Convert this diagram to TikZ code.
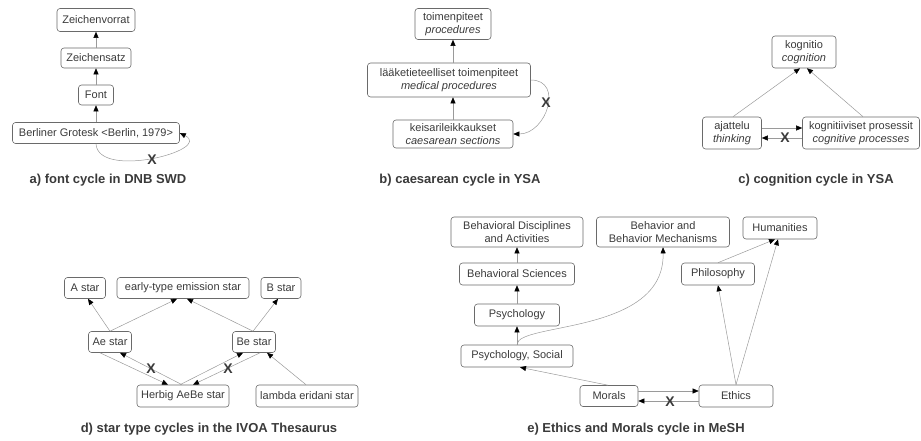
\documentclass[tikz,border=0pt]{standalone}
\usepackage{fontspec}
\setmainfont{Liberation Sans}
\usepackage{xcolor}
\usepackage{tikz}
\usetikzlibrary{positioning,arrows.meta}

\definecolor{txtgray}{HTML}{3A3A3A}
\definecolor{boxgray}{HTML}{6A6A6A}
\definecolor{linegray}{HTML}{9A9A9A}
\newcommand{\boxfont}{\fontsize{11}{13}\selectfont}
\newcommand{\capfont}{\fontsize{13}{15}\selectfont\bfseries}
\newcommand{\xfont}{\fontsize{14}{16}\selectfont\bfseries}

\begin{document}
\begin{tikzpicture}[x=1pt,y=-1pt,
    box/.style={draw=boxgray,rounded corners=3pt,line width=.6pt,text=txtgray,font=\boxfont,align=center,inner sep=0pt},
    link/.style={draw=linegray,line width=.5pt,-{Triangle[length=6pt,width=5pt,color=black]}},
    cross/.style={font=\xfont,text=txtgray,inner sep=0pt},
    caption/.style={font=\capfont,text=txtgray}]
    \useasboundingbox (0,0) rectangle (921,441);

    % a) font cycle
    \node[box,minimum width=78,minimum height=23] (zv) at (96,20) {Zeichenvorrat};
    \node[box,minimum width=70,minimum height=20] (zs) at (96,58) {Zeichensatz};
    \node[box,minimum width=35,minimum height=20] (fo) at (96,95) {Font};
    \node[box,minimum width=167,minimum height=21] (bg) at (96,133) {Berliner Grotesk <Berlin, 1979>};
    \draw[link] (zs) -- (zv);
    \draw[link] (fo) -- (zs);
    \draw[link] (bg) -- (fo);
    \draw[link] (bg.south) .. controls (98,180) and (214,150) .. (bg.east);
    \node[cross] (xa) at (152,160) {X};
    \node[caption] (ca) at (108,180) {a) font cycle in DNB SWD};

    % b) caesarean cycle
    \node[box,minimum width=76,minimum height=31] (tp) at (453,24) {toimenpiteet\\\textit{procedures}};
    \node[box,minimum width=163,minimum height=34] (mt) at (449,80) {lääketieteelliset toimenpiteet\\\textit{medical procedures}};
    \node[box,minimum width=120,minimum height=28] (ks) at (453,134) {keisarileikkaukset\\\textit{caesarean sections}};
    \draw[link] ([xshift=4pt]mt.north) -- (tp.south);
    \draw[link] (ks.north) -- ([xshift=4pt]mt.south);
    \draw[link] (mt.east) to[out=0,in=0,looseness=1.5] (ks.east);
    \node[cross] (xb) at (546,103) {X};
    \node[caption] (cb) at (460,180) {b) caesarean cycle in YSA};

    % c) cognition cycle
    \node[box,minimum width=64,minimum height=32] (ko) at (804,52) {kognitio\\\textit{cognition}};
    \node[box,minimum width=59,minimum height=32] (aj) at (732,133) {ajattelu\\\textit{thinking}};
    \node[box,minimum width=117,minimum height=32] (kp) at (861,133) {kognitiiviset prosessit\\\textit{cognitive processes}};
    \draw[link] ([xshift=1pt]aj.north) -- ([xshift=-4pt]ko.south);
    \draw[link] ([xshift=2pt]kp.north) -- ([xshift=3pt]ko.south);
    \draw[link] ([yshift=5pt]aj.east) -- ([yshift=5pt]kp.west);
    \draw[link] ([yshift=-5pt]kp.west) -- ([yshift=-5pt]aj.east);
    \node[cross] (xc) at (785,138) {X};
    \node[caption] (cc) at (816,180) {c) cognition cycle in YSA};

    % d) star types
    \node[box,minimum width=41,minimum height=21] (as) at (85,288) {A star};
    \node[box,minimum width=132,minimum height=21] (et) at (183,288) {early-type emission star};
    \node[box,minimum width=40,minimum height=21] (bs) at (281,288) {B star};
    \node[box,minimum width=43,minimum height=21] (ae) at (110,342) {Ae star};
    \node[box,minimum width=43,minimum height=21] (be) at (254,342) {Be star};
    \node[box,minimum width=92,minimum height=22] (hb) at (183,396) {Herbig AeBe star};
    \node[box,minimum width=102,minimum height=22] (le) at (307,396) {lambda eridani star};
    \draw[link] (ae.north) -- ([xshift=3pt]as.south);
    \draw[link] (ae.north) -- ([xshift=-6pt]et.south);
    \draw[link] ([xshift=-1pt]be.north) -- ([xshift=4pt]et.south);
    \draw[link] ([xshift=-1pt]be.north) -- ([xshift=-3pt]bs.south);
    \draw[link] ([xshift=-10pt]ae.south) -- ([xshift=-15pt]hb.north);
    \draw[link] ([xshift=-1pt]hb.north) -- ([xshift=10pt]ae.south);
    \draw[link] ([xshift=-3pt]hb.north) -- ([xshift=-11pt]be.south);
    \draw[link] ([xshift=6pt]be.south) -- ([xshift=10pt]hb.north);
    \draw[link] ([xshift=-1pt]le.north) -- ([xshift=13pt]be.south);
    \node[cross] (xd1) at (151,369) {X};
    \node[cross] (xd2) at (228,369) {X};
    \node[caption] (cd) at (209,429) {d) star type cycles in the IVOA Thesaurus};

    % e) Ethics and Morals
    \node[box,minimum width=132,minimum height=30] (bd) at (517,232) {Behavioral Disciplines\\and Activities};
    \node[box,minimum width=133,minimum height=30] (bm) at (663,232) {Behavior and\\Behavior Mechanisms};
    \node[box,minimum width=74,minimum height=22] (hu) at (780,228) {Humanities};
    \node[box,minimum width=115,minimum height=22] (bsc) at (517,274) {Behavioral Sciences};
    \node[box,minimum width=73,minimum height=22] (ph) at (718,274) {Philosophy};
    \node[box,minimum width=85,minimum height=22] (ps) at (517,315) {Psychology};
    \node[box,minimum width=112,minimum height=22] (pss) at (517,356) {Psychology, Social};
    \node[box,minimum width=58,minimum height=21] (mo) at (609,396) {Morals};
    \node[box,minimum width=74,minimum height=22] (eth) at (736,396) {Ethics};
    \draw[link] (bsc) -- (bd);
    \draw[link] (ps) -- (bsc);
    \draw[link] (pss) -- (ps);
    \draw[link] (pss.north) .. controls (517,322) and (665,335) .. (bm.south);
    \draw[link] ([xshift=-1pt]mo.north) -- ([xshift=3pt]pss.south);
    \draw[link] ([yshift=5pt]mo.east) -- ([yshift=5pt]eth.west);
    \draw[link] ([yshift=-5pt]eth.west) -- ([yshift=-5pt]mo.east);
    \draw[link] (eth.north) -- (ph.south);
    \draw[link] (eth.north) -- ([xshift=-2pt]hu.south);
    \draw[link] (ph.north) -- ([xshift=-5pt]hu.south);
    \node[cross] (xe) at (670,402) {X};
    \node[caption] (ce) at (636,429) {e) Ethics and Morals cycle in MeSH};
\end{tikzpicture}
\end{document}
